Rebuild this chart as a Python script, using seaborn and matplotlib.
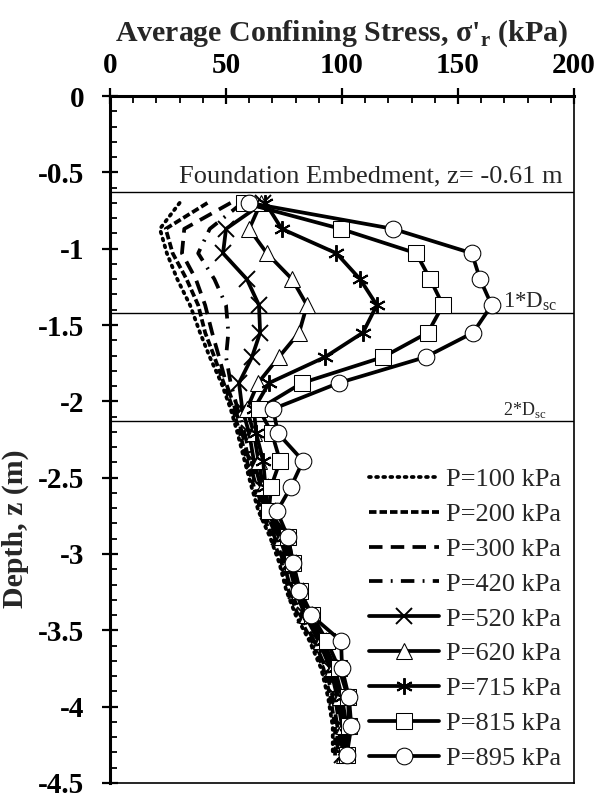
import seaborn as sns
import pandas as pd
import matplotlib
matplotlib.use('Agg')
import matplotlib.pyplot as plt
from matplotlib.ticker import MultipleLocator

# depth of the measurement points (m)
depth = [-0.70, -0.87, -1.03, -1.20, -1.37, -1.55, -1.71, -1.88, -2.05, -2.21, -2.39,
         -2.56, -2.72, -2.89, -3.06, -3.24, -3.40, -3.57, -3.75, -3.94, -4.13, -4.32]

# average confining stress (kPa) for each footing pressure
p100 = [30, 21.5, 24.5, 29, 34.5, 38.8, 43, 48, 52, 55, 58, 61, 64, 69, 73, 76, 80, 86, 91, 94, 96, 96]
p200 = [42, 24, 27, 33, 38, 41, 45, 49, 53, 56, 59, 62, 65, 70, 74, 77, 81, 87, 92, 95, 97, 97]
p300 = [52, 32, 31, 37, 41, 44, 47, 50, 54, 57, 60, 63, 66, 71, 75, 78, 82, 88, 93, 96, 98, 98]
p420 = [57, 43, 38, 45, 50, 51, 50, 52, 55, 58, 61, 64, 67, 72, 76, 79, 83, 89, 94, 97, 99, 99]
p520 = [66, 50, 48.7, 59, 64.2, 64.7, 61.2, 55.6, 57, 60, 62, 65, 68, 73, 77, 80, 84, 90, 95, 98, 100, 100]
p620 = [65, 60, 67.6, 78.5, 84.9, 81.5, 72.8, 63.8, 59, 62, 64, 66, 68, 74, 78, 81, 85, 91, 96, 99, 101, 101]
p715 = [67, 74, 97.6, 107.8, 115, 109, 92.7, 68.5, 62, 63, 66, 67, 68, 75, 78, 81, 86, 92, 97, 100, 102, 101]
p815 = [57.7, 99.4, 132, 138, 143.5, 137, 117.7, 82.7, 64.2, 69.8, 73.3, 69.4, 68.5, 76.7, 78.9,
        81.9, 87, 93.5, 98.7, 102.6, 103, 102]
p895 = [60, 122, 156, 159.5, 164.5, 156.5, 136, 98.5, 70.3, 72.4, 83.2, 78, 72, 76.7, 78.9,
        81.5, 86.6, 99.6, 100, 103, 104, 102]

labels = ['P=100 kPa', 'P=200 kPa', 'P=300 kPa', 'P=420 kPa', 'P=520 kPa',
          'P=620 kPa', 'P=715 kPa', 'P=815 kPa', 'P=895 kPa']
series = [p100, p200, p300, p420, p520, p620, p715, p815, p895]

# reference depths (m)
ref_lines = [-0.63, -1.42, -2.13]

styles = [
    dict(linestyle=(0, (0.5, 1.4)), dash_capstyle='round', marker=''),
    dict(linestyle=(0, (2.0, 0.8)), marker=''),
    dict(linestyle=(0, (3.6, 2.2)), marker=''),
    dict(linestyle=(0, (3.6, 2.2, 0.5, 2.2)), marker=''),
    dict(linestyle='-', marker='x', markersize=11, markeredgewidth=1.4),
    dict(linestyle='-', marker='^', markersize=12),
    dict(linestyle='-', marker=(6, 2, 0), markersize=12, markeredgewidth=1.4),
    dict(linestyle='-', marker='s', markersize=11),
    dict(linestyle='-', marker='o', markersize=12),
]

sns.set_theme(style='ticks')
plt.rcParams['font.family'] = ['Liberation Serif', 'DejaVu Serif']
plt.rcParams['mathtext.fontset'] = 'custom'
plt.rcParams['mathtext.rm'] = 'Liberation Serif'
plt.rcParams['mathtext.bf'] = 'Liberation Serif:bold'

fig = plt.figure(figsize=(5.97, 7.97), dpi=100)
ax = fig.add_axes([0.1843, 0.0176, 0.9615 - 0.1843, 0.8795 - 0.0176])

for lab, vals, st in zip(labels, series, styles):
    df = pd.DataFrame({'stress': vals, 'depth': depth})
    sns.lineplot(data=df, x='stress', y='depth', sort=False, estimator=None,
                 color='black', linewidth=2.7, markerfacecolor='white',
                 markeredgecolor='black', label=lab, ax=ax, **st)

for z in ref_lines:
    ax.axhline(z, color='black', linewidth=1.0, zorder=1)

ax.text(195, -0.565, 'Foundation Embedment, z= -0.61 m', ha='right', va='baseline',
        fontsize=19)
ax.text(169.5, -1.38, '1*D$_\\mathrm{sc}$', ha='left', va='baseline', fontsize=16.5)
ax.text(169.5, -2.09, '2*D$_\\mathrm{sc}$', ha='left', va='baseline', fontsize=13)

ax.set_xlim(0, 200)
ax.set_ylim(-4.5, 0)
ax.xaxis.tick_top()
ax.xaxis.set_label_position('top')
ax.xaxis.set_major_locator(MultipleLocator(50))
ax.xaxis.set_minor_locator(MultipleLocator(10))
ax.yaxis.set_major_locator(MultipleLocator(0.5))
ax.yaxis.set_minor_locator(MultipleLocator(0.1))
ax.tick_params(which='major', direction='inout', length=11, width=1.6, labelsize=21,
               colors='black')
ax.tick_params(which='minor', direction='in', length=5, width=1.3, colors='black')
ax.tick_params(axis='x', which='both', top=True, bottom=False, pad=7)
ax.tick_params(axis='y', which='both', left=True, right=False, pad=13)
for t in ax.get_xticklabels() + ax.get_yticklabels():
    t.set_fontweight('bold')
ax.yaxis.set_major_formatter(matplotlib.ticker.FuncFormatter(
    lambda v, p: '0' if abs(v) < 1e-9 else ('%g' % v)))

for side in ['top', 'right', 'bottom', 'left']:
    ax.spines[side].set_visible(True)
    ax.spines[side].set_color('black')
ax.spines['top'].set_linewidth(2.2)
ax.spines['left'].set_linewidth(2.2)
ax.spines['right'].set_linewidth(1.2)
ax.spines['bottom'].set_linewidth(1.2)

ax.set_xlabel("Average Confining Stress, σ'$_\\mathbf{r}$ (kPa)", fontsize=21.5,
              fontweight='bold', labelpad=8)
ax.set_ylabel('Depth, z (m)', fontsize=21.5, fontweight='bold')
ax.yaxis.set_label_coords(-0.175, 0.37)

leg = ax.legend(loc='lower right', frameon=False, fontsize=19, handlelength=2.65,
                handletextpad=0.25, labelspacing=0.43, borderaxespad=0.1)

fig.savefig('out.png', dpi=100)
